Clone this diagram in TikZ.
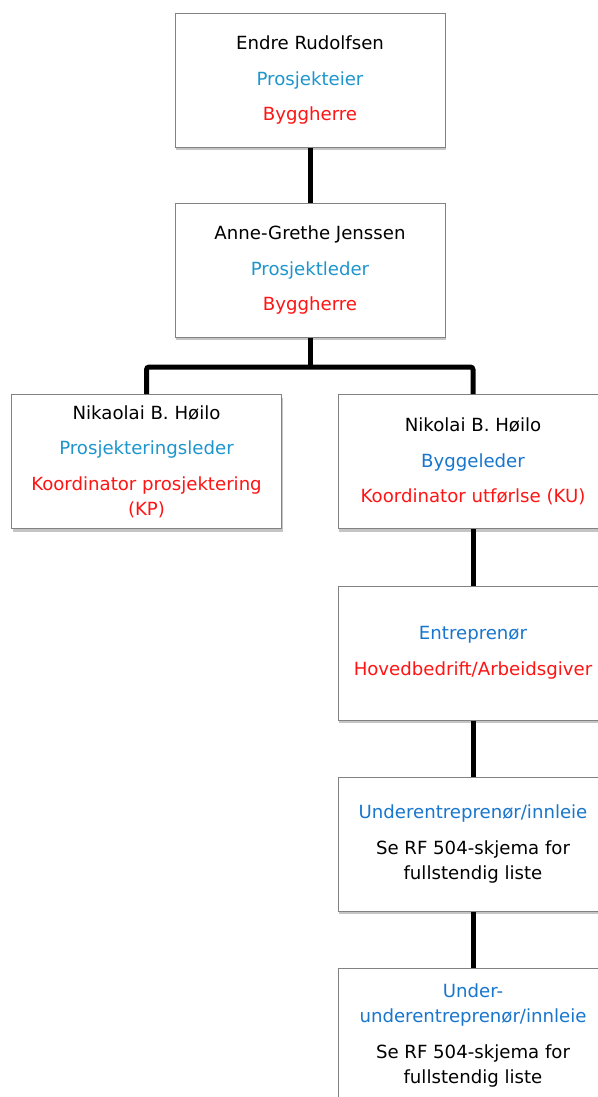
\documentclass[tikz,border=0pt]{standalone}
\usepackage{fontspec}
\setmainfont{DejaVu Sans}
\usepackage{tikz}
\usetikzlibrary{positioning, calc, shadows}
\definecolor{roleblue}{RGB}{30, 150, 205}
\definecolor{siteblue}{RGB}{25, 118, 205}
\definecolor{dutyred}{RGB}{255, 20, 20}
\definecolor{boxgray}{RGB}{130, 130, 130}

\begin{document}
\begin{tikzpicture}[x=0.75pt, y=-0.75pt,
    orgbox/.style={rectangle, draw=boxgray, line width=0.75pt, fill=white,
                   minimum width=202.5pt, minimum height=100.5pt, align=center,
                   font=\fontsize{13.6}{18.75}\selectfont,
                   drop shadow={fill=black!50, opacity=0.45, shadow xshift=1pt, shadow yshift=-2.5pt}},
    link/.style={line width=3.75pt, rounded corners=2pt}
]
\useasboundingbox[fill=white] (0,0) rectangle (598,1097);

% Owner level
\node[orgbox] (eier) at (310,80) {Endre Rudolfsen\\[8pt]
    \textcolor{roleblue}{Prosjekteier}\\[8pt]\textcolor{dutyred}{Byggherre}};
\node[orgbox] (leder) at (310,270) {Anne-Grethe Jenssen\\[8pt]
    \textcolor{roleblue}{Prosjektleder}\\[8pt]\textcolor{dutyred}{Byggherre}};

% Planning and building
\node[orgbox] (kp) at (146.5,461.5) {Nikaolai B. Høilo\\[8pt]
    \textcolor{roleblue}{Prosjekteringsleder}\\[8pt]
    \textcolor{dutyred}{Koordinator prosjektering}\\\textcolor{dutyred}{(KP)}};
\node[orgbox] (ku) at (473,461.5) {Nikolai B. Høilo\\[8pt]
    \textcolor{siteblue}{Byggeleder}\\[8pt]\textcolor{dutyred}{Koordinator utførlse (KU)}};

% Contractor chain
\node[orgbox] (entr) at (473,653) {\textcolor{siteblue}{Entreprenør}\\[8pt]
    \textcolor{dutyred}{Hovedbedrift/Arbeidsgiver}};
\node[orgbox] (ue) at (473,844) {\textcolor{siteblue}{Underentreprenør/innleie}\\[8pt]
    Se RF 504-skjema for\\fullstendig liste};
\node[orgbox] (uue) at (473,1035.5) {\textcolor{siteblue}{Under-}\\\textcolor{siteblue}{underentreprenør/innleie}\\[8pt]
    Se RF 504-skjema for\\fullstendig liste};

% Connectors
\coordinate (split) at (310,367);
\draw[link] (eier) -- (leder);
\draw[link] (leder) -- (split);
\draw[link] (kp.north) |- (split) -| (ku.north);
\draw[link] (ku) -- (entr);
\draw[link] (entr) -- (ue);
\draw[link] (ue) -- (uue);

\end{tikzpicture}
\end{document}
